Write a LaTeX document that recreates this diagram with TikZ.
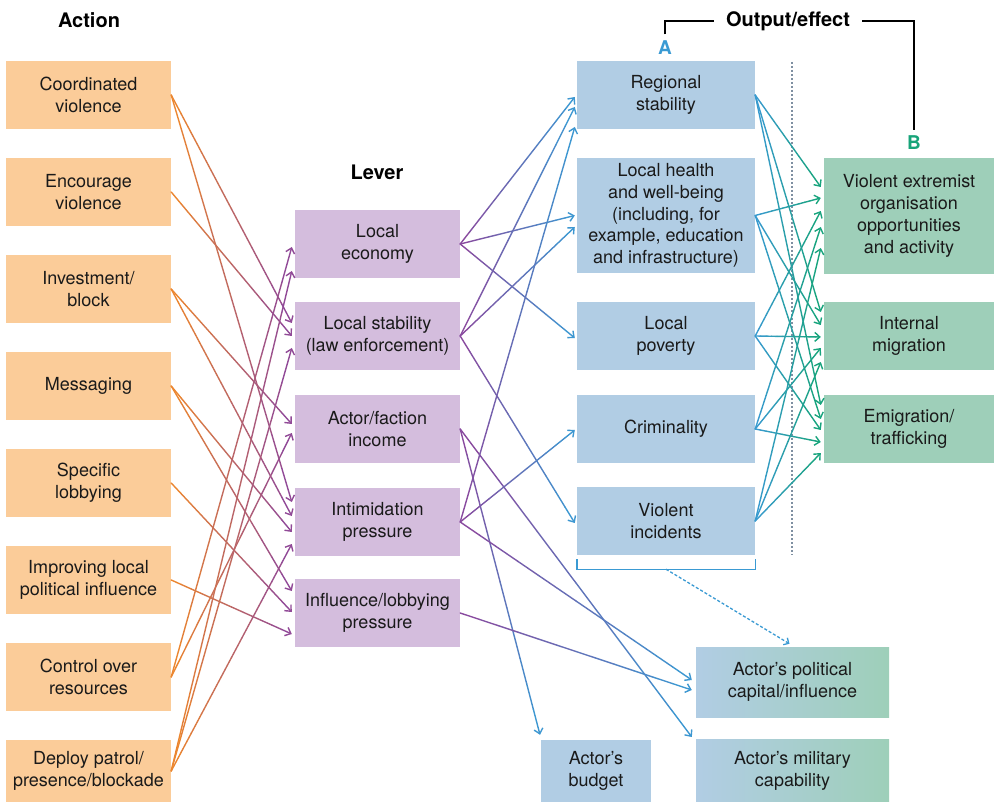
\documentclass[tikz,border=0pt]{standalone}
\usepackage{fontspec}
\setmainfont{TeX Gyre Heros}
\usetikzlibrary{arrows.meta,calc}

\definecolor{actfill}{HTML}{FBCC99}
\definecolor{levfill}{HTML}{D4BDDD}
\definecolor{outAfill}{HTML}{B1CDE4}
\definecolor{outBfill}{HTML}{9ECFB9}
\definecolor{orangeL}{HTML}{F0892A}
\definecolor{purpleL}{HTML}{8D479C}
\definecolor{blueL}{HTML}{3A9AD3}
\definecolor{greenL}{HTML}{17A479}
\definecolor{dividerC}{HTML}{7F90A2}
\definecolor{inktext}{HTML}{1A1A1A}

\tikzset{
  box/.style={inner sep=0pt, align=center, minimum height=68pt,
    font=\fontsize{18}{21.8}\selectfont, text=inktext},
  actbox/.style={box, fill=actfill, minimum width=165pt},
  levbox/.style={box, fill=levfill, minimum width=165pt},
  outAbox/.style={box, fill=outAfill, minimum width=178pt},
  outBbox/.style={box, fill=outBfill, minimum width=170pt},
  mixbox/.style={box, left color=outAfill, right color=outBfill, minimum width=193pt},
  head/.style={inner sep=0pt, font=\fontsize{20}{24}\bfseries\selectfont, text=black},
  letter/.style={inner sep=0pt, font=\fontsize{19}{23}\bfseries\selectfont},
  flowline/.style={line width=1.4pt, line cap=round},
  headline/.style={line width=1.5pt, draw=black},
  tip/.style={-{Straight Barb[length=5pt,width=9pt]}},
}

% gradient connector: source anchor, target anchor, x/y shift of the tip
% (y grows downwards), start colour, end colour
\newcommand\flow[6]{%
  \coordinate (fs) at (#1);
  \coordinate (ft) at ($(#2)+(#3,#4)$);
  \foreach \k in {1,...,12}{%
    \pgfmathtruncatemacro\mixpc{100-(\k-0.5)*100/12}%
    \ifnum\k<12
      \draw[flowline,draw=#5!\mixpc!#6] ($(fs)!{(\k-1)/12}!(ft)$) -- ($(fs)!{\k/12}!(ft)$);
    \else
      \draw[flowline,tip,draw=#5!\mixpc!#6] ($(fs)!{(\k-1)/12}!(ft)$) -- (ft);
    \fi
  }%
}

\begin{document}
\begin{tikzpicture}[x=1pt,y=-1pt]
\useasboundingbox (0,0) rectangle (994,802);

% headings
\node[head] (hact) at (89,20) {Action};
\node[head] (hlev) at (377,172) {Lever};
\node[head] (hout) at (788,21) {Output/effect};
\node[letter, text=blueL] (la) at (665,47.5) {A};
\node[letter, text=greenL] (lb) at (914,143) {B};
\draw[headline] ([yshift=6pt]la.north) |- ([xshift=-12pt]hout.west);
\draw[headline] ([xshift=12pt]hout.east) -| ([yshift=6pt]lb.north);

% actions
\node[actbox] (a1) at (88.5,95)  {Coordinated\\violence};
\node[actbox] (a2) at (88.5,192) {Encourage\\violence};
\node[actbox] (a3) at (88.5,289) {Investment/\\block};
\node[actbox] (a4) at (88.5,386) {Messaging};
\node[actbox] (a5) at (88.5,483) {Specific\\lobbying};
\node[actbox] (a6) at (88.5,580) {Improving local\\political influence};
\node[actbox] (a7) at (88.5,677) {Control over\\resources};
\node[actbox, minimum height=62pt] (a8) at (88.5,771) {Deploy patrol/\\presence/blockade};

% levers
\node[levbox] (l1) at (377.5,244) {Local\\economy};
\node[levbox] (l2) at (377.5,336) {Local stability\\(law enforcement)};
\node[levbox] (l3) at (377.5,429) {Actor/faction\\income};
\node[levbox] (l4) at (377.5,522) {Intimidation\\pressure};
\node[levbox] (l5) at (377.5,613) {Influence/lobbying\\pressure};

% outputs A
\node[outAbox] (r) at (666,95) {Regional\\stability};
\node[outAbox, minimum height=115pt] (h) at (666,215.5) {Local health\\and well-being\\(including, for\\example, education\\and infrastructure)};
\node[outAbox] (p) at (666,336) {Local\\poverty};
\node[outAbox] (c) at (666,429) {Criminality};
\node[outAbox] (v) at (666,521) {Violent\\incidents};

% outputs B
\node[outBbox, minimum height=116pt] (ve) at (909,216) {Violent extremist\\organisation\\opportunities\\and activity};
\node[outBbox] (im) at (909,336) {Internal\\migration};
\node[outBbox] (em) at (909,429) {Emigration/\\trafficking};

% actor outcomes
\node[mixbox, minimum height=70pt] (pc) at (792.5,682) {Actor’s political\\capital/influence};
\node[mixbox, minimum height=63pt] (mc) at (792.5,770.5) {Actor’s military\\capability};
\node[outAbox, minimum width=110pt, minimum height=62pt] (bud) at (596,771) {Actor’s\\budget};

% divider between A and B
\coordinate (divtop) at (792,62);
\coordinate (divbot) at (792,555);
\draw[dividerC, line width=2.5pt, dash pattern=on 2pt off 2pt] (divtop) -- (divbot);

% bracket under A and its dashed link
\draw[blueL, line width=1.4pt] ($(v.south west)+(0,4)$) -- ($(v.south west)+(0,14)$)
  -- ($(v.south east)+(0,14)$) -- ($(v.south east)+(0,4)$);
\coordinate (brk) at ($(v.south)+(0,14)$);
\draw[blueL, line width=1.3pt, dash pattern=on 3pt off 2pt, -{Straight Barb[length=4pt,width=8pt]}]
  (brk) -- ($(pc.north)+(-3,-3)$);

% action -> lever
\flow{a1.east}{l2.west}{-3}{-13}{orangeL}{purpleL}
\flow{a1.east}{l4.west}{-3}{-20}{orangeL}{purpleL}
\flow{a2.east}{l2.west}{-3}{0}{orangeL}{purpleL}
\flow{a3.east}{l3.west}{-3}{-5}{orangeL}{purpleL}
\flow{a3.east}{l4.west}{-3}{-6}{orangeL}{purpleL}
\flow{a4.east}{l4.west}{-3}{10}{orangeL}{purpleL}
\flow{a4.east}{l5.west}{-3}{-22}{orangeL}{purpleL}
\flow{a5.east}{l5.west}{-3}{-1}{orangeL}{purpleL}
\flow{a6.east}{l5.west}{-3}{21}{orangeL}{purpleL}
\flow{a7.east}{l1.west}{-3}{3}{orangeL}{purpleL}
\flow{a7.east}{l3.west}{-3}{4}{orangeL}{purpleL}
\flow{a8.east}{l1.west}{-3}{27}{orangeL}{purpleL}
\flow{a8.east}{l2.west}{-3}{12}{orangeL}{purpleL}
\flow{a8.east}{l4.west}{-3}{22}{orangeL}{purpleL}

% lever -> output
\flow{l1.east}{r.west}{-2}{2}{purpleL}{blueL}
\flow{l1.east}{h.west}{-2}{0}{purpleL}{blueL}
\flow{l1.east}{p.west}{-2}{2}{purpleL}{blueL}
\flow{l2.east}{r.west}{-2}{12}{purpleL}{blueL}
\flow{l2.east}{h.west}{-2}{11.5}{purpleL}{blueL}
\flow{l2.east}{v.west}{-2}{2}{purpleL}{blueL}
\flow{l3.east}{bud.north}{-56}{-5}{purpleL}{blueL}
\flow{l3.east}{mc.west}{-4}{-33.5}{purpleL}{blueL}
\flow{l4.east}{r.west}{-2}{32}{purpleL}{blueL}
\flow{l4.east}{c.west}{-2}{1}{purpleL}{blueL}
\flow{l4.east}{pc.west}{-4}{-2}{purpleL}{blueL}
\flow{l5.east}{pc.west}{-4}{8}{purpleL}{blueL}

% output A -> output B
\flow{r.east}{ve.west}{-3}{-29}{blueL}{greenL}
\flow{r.east}{im.west}{-3}{-24}{blueL}{greenL}
\flow{r.east}{em.west}{-3}{-24}{blueL}{greenL}
\flow{h.east}{ve.west}{-3}{-18}{blueL}{greenL}
\flow{h.east}{im.west}{-3}{-11}{blueL}{greenL}
\flow{h.east}{em.west}{-3}{-10}{blueL}{greenL}
\flow{p.east}{ve.west}{-3}{-5}{blueL}{greenL}
\flow{p.east}{im.west}{-3}{1}{blueL}{greenL}
\flow{p.east}{em.west}{-3}{1}{blueL}{greenL}
\flow{c.east}{ve.west}{-3}{11}{blueL}{greenL}
\flow{c.east}{im.west}{-3}{12}{blueL}{greenL}
\flow{c.east}{em.west}{-3}{13}{blueL}{greenL}
\flow{v.east}{ve.west}{-3}{32}{blueL}{greenL}
\flow{v.east}{im.west}{-3}{26}{blueL}{greenL}
\flow{v.east}{em.west}{-3}{24}{blueL}{greenL}
\end{tikzpicture}
\end{document}
